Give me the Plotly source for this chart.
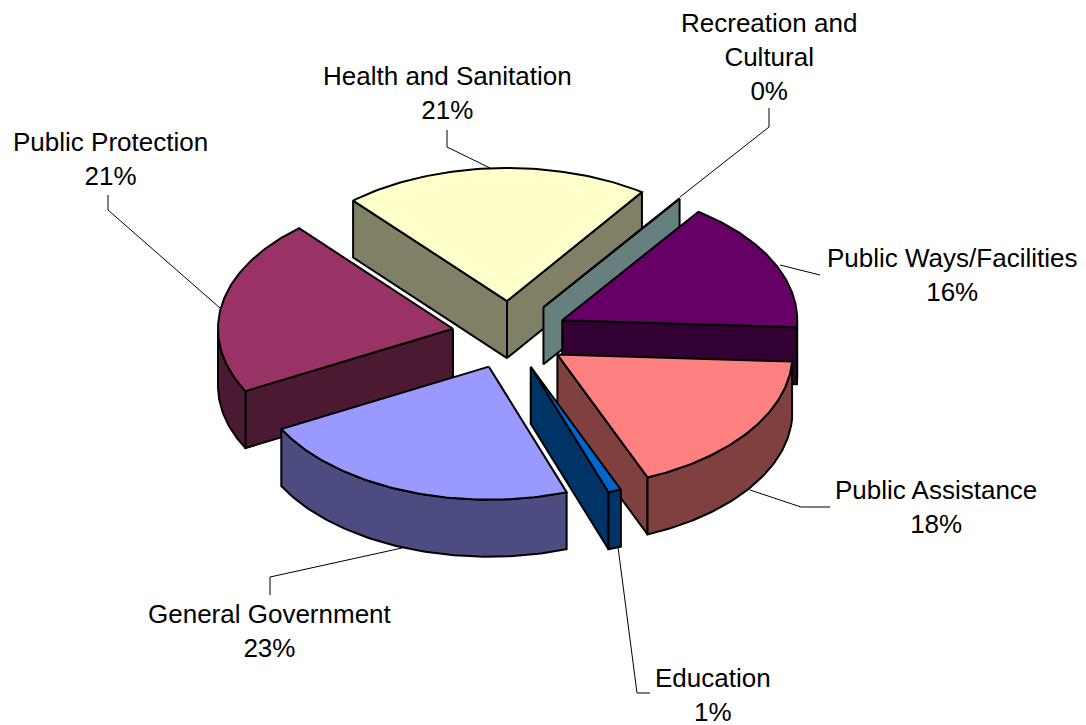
import numpy as np
import plotly.graph_objects as go

categories = ["Public Assistance", "Education", "General Government", "Public Protection",
              "Health and Sanitation", "Recreation and Cultural", "Public Ways/Facilities"]
values = [17.9, 0.9, 22.6, 21.4, 21.1, 0.1, 16.0]
label_lines = [["Public Assistance", "18%"], ["Education", "1%"], ["General Government", "23%"],
               ["Public Protection", "21%"], ["Health and Sanitation", "21%"],
               ["Recreation and", "Cultural", "0%"], ["Public Ways/Facilities", "16%"]]
top_colors = ["#FF8080", "#0066CC", "#9999FF", "#993366", "#FFFFCC", "#669999", "#660066"]
side_colors = ["#804040", "#003366", "#4C4C80", "#4C1933", "#808066", "#668080", "#330033"]

A, B, DEPTH = 235, 133, 57
CX, CY, EX, EY = 510, 335, 58, 34
START = 3.0

label_pos = [(936, 507), (713, 695), (270, 631), (110, 159), (447, 93), (769, 57), (952, 275)]
leaders = [
    [(750, 490), (801, 507), (830, 507)],
    [(618, 547), (637, 693), (650, 693)],
    [(402, 548), (270, 577), (270, 595)],
    [(220, 308), (108, 210), (108, 195)],
    [(490, 168), (447, 147), (447, 130)],
    [(680, 197), (769, 127), (769, 108)],
    [(780, 265), (820, 275)],
]
draw_order = [4, 5, 6, 3, 0, 1, 2]

fracs = np.array(values) / sum(values) * 360
starts = START + np.concatenate([[0], np.cumsum(fracs)[:-1]])

fig = go.Figure()

def poly(xs, ys, fill):
    fig.add_trace(go.Scatter(x=list(xs) + [xs[0]], y=list(ys) + [ys[0]], mode="lines", fill="toself",
                             fillcolor=fill, line=dict(color="#000000", width=2),
                             hoverinfo="skip", showlegend=False))

for i in draw_order:
    t1 = starts[i]
    t2 = t1 + fracs[i]
    mid = np.radians((t1 + t2) / 2)
    ax = CX + EX * np.cos(mid)
    ay = CY + EY * np.sin(mid)
    ts = np.radians(np.linspace(t1, t2, 80))
    xs = ax + A * np.cos(ts)
    ys = ay + B * np.sin(ts)
    # radial faces
    if np.cos(np.radians(t1)) < 0:
        poly([ax, xs[0], xs[0], ax], [ay, ys[0], ys[0] + DEPTH, ay + DEPTH], side_colors[i])
    if np.cos(np.radians(t2)) > 0:
        poly([ax, xs[-1], xs[-1], ax], [ay, ys[-1], ys[-1] + DEPTH, ay + DEPTH], side_colors[i])
    # outer wall
    mask = np.sin(ts) > 0
    if mask.sum() > 1:
        wx, wy = xs[mask], ys[mask]
        poly(list(wx) + list(wx[::-1]), list(wy) + list((wy + DEPTH)[::-1]), side_colors[i])
    poly([ax] + list(xs), [ay] + list(ys), top_colors[i])

shapes = []
for pts in leaders:
    path = "M " + " L ".join(f"{x},{y}" for x, y in pts)
    shapes.append(dict(type="path", path=path, xref="x", yref="y", line=dict(color="#000000", width=1)))

annotations = [dict(x=p[0], y=p[1], xref="x", yref="y", text="<br>".join(l), showarrow=False,
                    align="center", font=dict(family="Liberation Sans", size=26, color="#000000"))
               for p, l in zip(label_pos, label_lines)]

fig.update_layout(width=1086, height=725, margin=dict(l=0, r=0, t=0, b=0), autosize=False,
                  paper_bgcolor="#FFFFFF", plot_bgcolor="#FFFFFF", showlegend=False,
                  xaxis=dict(range=[0, 1086], visible=False),
                  yaxis=dict(range=[725, 0], visible=False),
                  shapes=shapes, annotations=annotations)
fig.write_html("out.html", config=dict(displayModeBar=False),
               post_script="document.body.style.margin='0';document.body.style.overflow='hidden';")
